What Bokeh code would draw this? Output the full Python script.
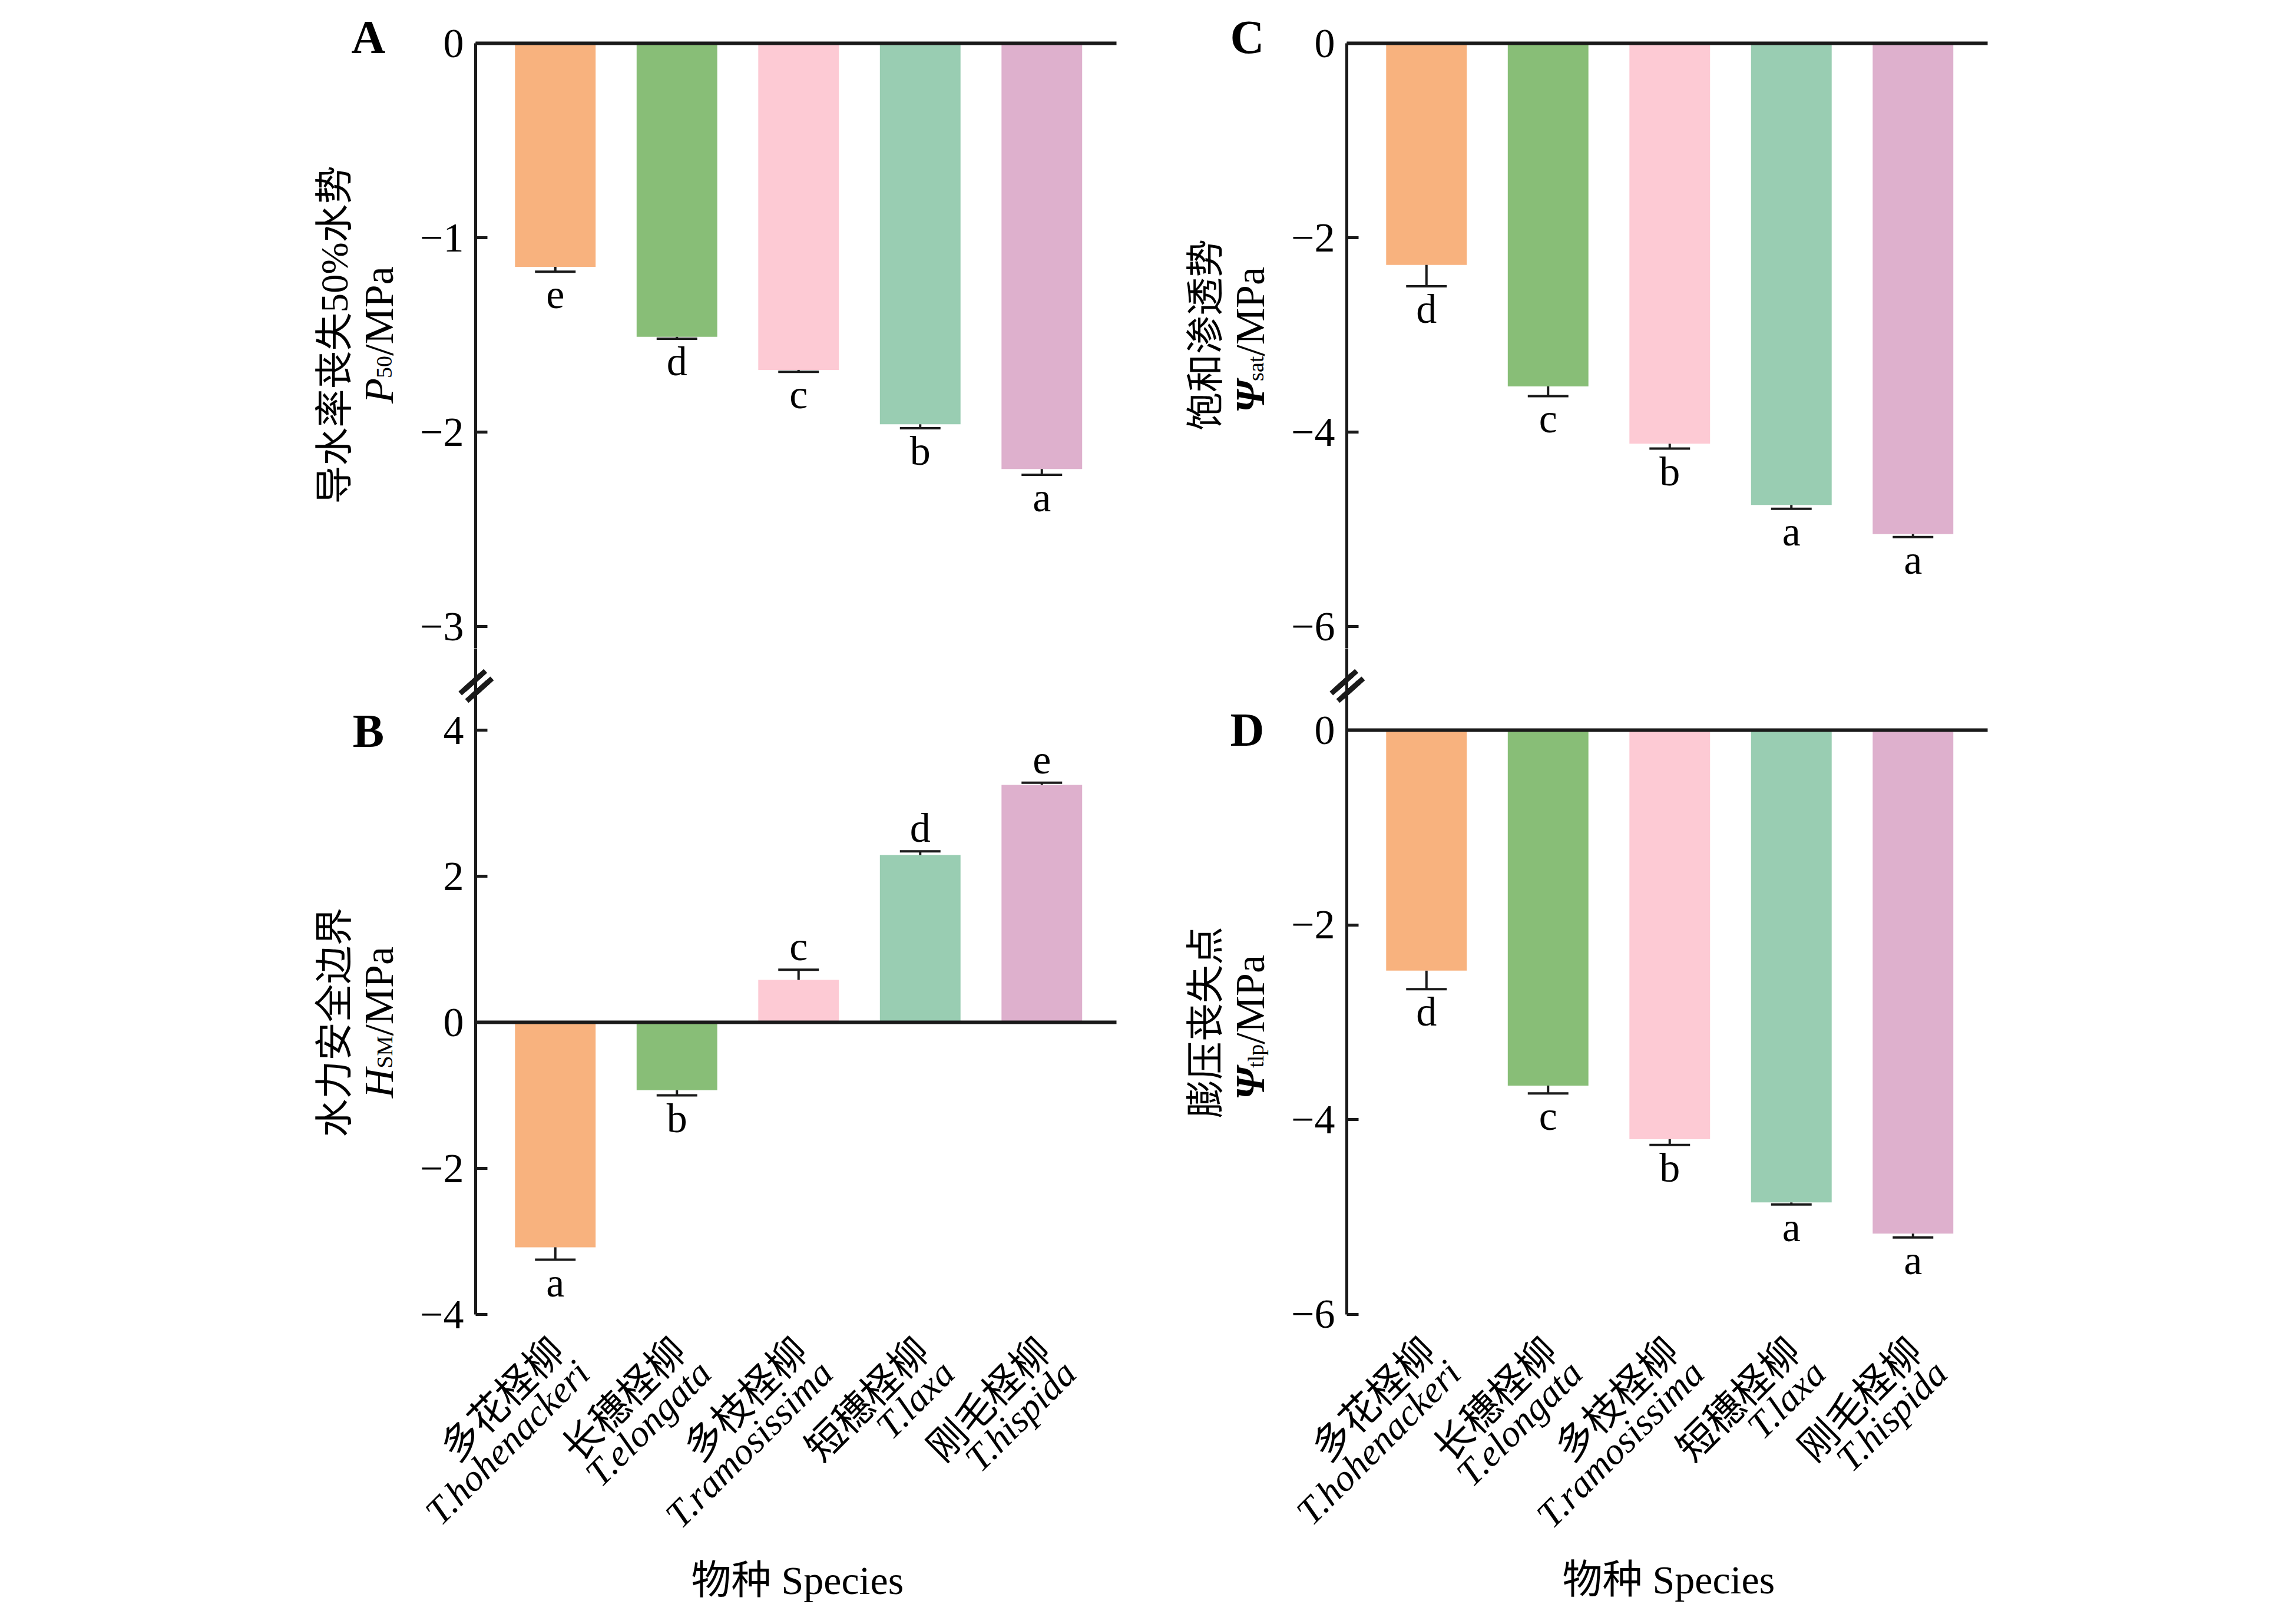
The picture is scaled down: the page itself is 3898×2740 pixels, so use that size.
import math
from bokeh.plotting import figure
from bokeh.models import (Range1d, FixedTicker, Label, LabelSet, LinearAxis,
                          ColumnDataSource, CustomJSTickFormatter)
from bokeh.layouts import column, row
from bokeh.core.properties import value
from bokeh.embed import file_html
from bokeh.resources import INLINE

# ---------------- data ----------------
species_cn = ["多花柽柳", "长穗柽柳", "多枝柽柳", "短穗柽柳", "刚毛柽柳"]
species_la = ["T.hohenackeri", "T.elongata", "T.ramosissima", "T.laxa", "T.hispida"]
bar_colors = ["#F8B27E", "#88BE77", "#FDCAD4", "#99CDB2", "#DEB0CD"]

p50_vals = [-1.15, -1.51, -1.68, -1.96, -2.19]
p50_se = [0.025, 0.01, 0.01, 0.02, 0.03]
p50_sig = ["e", "d", "c", "b", "a"]

hsm_vals = [-3.08, -0.93, 0.58, 2.29, 3.25]
hsm_se = [0.17, 0.07, 0.14, 0.05, 0.03]
hsm_sig = ["a", "b", "c", "d", "e"]

psat_vals = [-2.28, -3.53, -4.12, -4.75, -5.05]
psat_se = [0.22, 0.10, 0.05, 0.04, 0.03]
psat_sig = ["d", "c", "b", "a", "a"]

ptlp_vals = [-2.47, -3.65, -4.20, -4.85, -5.17]
ptlp_se = [0.19, 0.08, 0.06, 0.02, 0.04]
ptlp_sig = ["d", "c", "b", "a", "a"]

ticks_A = [0, -1, -2, -3]
ticks_B = [4, 2, 0, -2, -4]
ticks_C = [0, -2, -4, -6]
ticks_D = [0, -2, -4, -6]

title_cn_A = "导水率丧失50%水势"
title_cn_B = "水力安全边界"
title_cn_C = "饱和渗透势"
title_cn_D = "膨压丧失点"
x_title = "物种 Species"

# ---------------- style / layout constants ----------------
SERIF = "Liberation Serif"
MIXED = "Liberation Serif, Noto Sans CJK SC"
INK = "#1a1a1a"
XR = (-0.655, 4.615)        # extent of the drawn x axis (data units)
BAR_W = 0.663
CAP_HALF = 0.167
UX = 206.5                   # px per category
ROW_SPLIT = 1100             # page y where the top row ends

CW = {"P": 0.556, "M": 0.889, "a": 0.444, "/": 0.278, " ": 0.25, "5": 0.5,
      "0": 0.5, "S": 0.556, "s": 0.389, "t": 0.278, "l": 0.278, "p": 0.5}
CW_IT = {"P": 0.611, "H": 0.722}


def text_w(t, size, style):
    tot = 0.0
    for ch in t:
        if ch == "Ψ":
            tot += 0.78
        elif "italic" in style and ch in CW_IT:
            tot += CW_IT[ch]
        else:
            tot += CW.get(ch, 0.5)
    return tot * size


def make_panel(vals, se, sig, ticks, fig_x, fig_y, width, height, axis_px, ref_val,
               ref_py, upx, letter, letter_y, letter_dx, letter_dy,
               title_cn, title_parts, title_y, top_row=True):
    # ranges derived from the page geometry so the frame fills the whole canvas
    xs = XR[0] - (axis_px - fig_x) / UX
    xe = xs + width / UX
    ye = ref_val + (ref_py - fig_y) / upx
    ys = ye - height / upx
    # y axis line runs from the row split down (top row) or from the split down to the last tick
    ybounds = (ys, 0) if top_row else (min(ticks), ye)
    p = figure(width=width, height=height, x_range=Range1d(xs, xe), y_range=Range1d(ys, ye),
               output_backend="svg", toolbar_location=None, x_axis_location=None,
               y_axis_location=None, min_border_left=0, min_border_right=0,
               min_border_top=0, min_border_bottom=0, title=None)
    p.grid.visible = False
    p.outline_line_color = None
    p.background_fill_color = "white"
    p.border_fill_color = "white"

    ax = LinearAxis(fixed_location=XR[0], bounds=ybounds, ticker=FixedTicker(ticks=ticks))
    ax.formatter = CustomJSTickFormatter(
        code="return tick < 0 ? '\u2212' + Math.abs(tick) : tick.toString();")
    ax.axis_line_width = 5
    ax.axis_line_color = INK
    ax.major_tick_line_width = 5
    ax.major_tick_line_color = INK
    ax.major_tick_in = 20
    ax.major_tick_out = 0
    ax.minor_tick_line_color = None
    ax.major_label_standoff = 20
    ax.major_label_text_font = SERIF
    ax.major_label_text_font_size = "70px"
    ax.major_label_text_color = "black"
    p.add_layout(ax, "left")

    idx = list(range(len(vals)))
    ends = [v + (se_ if v >= 0 else -se_) for v, se_ in zip(vals, se)]
    src = ColumnDataSource(dict(
        x=idx, top=vals, color=bar_colors, end=ends, sig=sig,
        cl=[i - CAP_HALF for i in idx], cr=[i + CAP_HALF for i in idx],
        off=[16 if v >= 0 else -62 for v in vals]))
    p.vbar(x="x", top="top", bottom=0, width=BAR_W, fill_color="color",
           line_color=None, source=src)
    p.segment(x0="x", x1="x", y0="top", y1="end", line_width=4, line_color=INK, source=src)
    p.segment(x0="cl", x1="cr", y0="end", y1="end", line_width=4, line_color=INK, source=src)
    p.add_layout(LabelSet(x="x", y="end", text="sig", y_offset="off", source=src,
                          text_align="center", text_baseline="alphabetic",
                          text_font=value(SERIF), text_font_size="70px",
                          text_color="black"))

    # zero line as a bounded x axis without ticks
    zx = LinearAxis(fixed_location=0, bounds=XR, ticker=FixedTicker(ticks=[]))
    zx.axis_line_width = 6
    zx.axis_line_color = INK
    zx.major_tick_line_color = None
    zx.minor_tick_line_color = None
    zx.major_label_text_font_size = "0px"
    p.add_layout(zx, "below")

    # panel letter
    p.add_layout(Label(x=XR[0], y=letter_y, x_offset=letter_dx, y_offset=letter_dy,
                       text=letter, text_font=SERIF, text_font_style="bold",
                       text_font_size="80px", text_align="center",
                       text_baseline="middle", text_color="black"))

    # y title: Chinese line
    p.add_layout(Label(x=XR[0], y=title_y, x_offset=-240, y_offset=0, angle=math.pi / 2,
                       text=title_cn, text_font=MIXED, text_font_size="65px",
                       text_align="center", text_baseline="middle", text_color="black"))
    # y title: symbol line composed of pieces
    total = sum(text_w(t, s, st) for t, st, s, sh in title_parts)
    pos = -total / 2
    for t, st, s, sh in title_parts:
        p.add_layout(Label(x=XR[0], y=title_y, x_offset=-164 + sh, y_offset=pos,
                           angle=math.pi / 2, text=t, text_font=SERIF,
                           text_font_style=st, text_font_size="%dpx" % s,
                           text_align="left", text_baseline="alphabetic",
                           text_color="black"))
        pos += text_w(t, s, st)

    if not top_row:
        lsrc = ColumnDataSource(dict(x=idx, y=[ybounds[0]] * len(idx), cn=species_cn,
                                     la=species_la))
        p.add_layout(LabelSet(x="x", y="y", text="cn", source=lsrc, x_offset=4,
                              y_offset=-51, angle=math.pi / 4, text_align="right",
                              text_baseline="middle", text_font=value(MIXED),
                              text_font_size="66px", text_color="black"))
        p.add_layout(LabelSet(x="x", y="y", text="la", source=lsrc, x_offset=47,
                              y_offset=-89, angle=math.pi / 4, text_align="right",
                              text_baseline="middle", text_font=value(SERIF),
                              text_font_style="italic", text_font_size="64px",
                              text_color="black"))
        p.add_layout(Label(x=2, y=ybounds[0], x_offset=-2, y_offset=-451, text=x_title,
                           text_font=MIXED, text_font_size="68px",
                           text_align="center", text_baseline="middle",
                           text_color="black"))
        # axis-break mark drawn as a slanted "=" (two copies make the strokes longer)
        for dx, dy in ((2.7, -58.7), (-4.7, -65.3)):
            p.add_layout(Label(x=XR[0], y=ybounds[1], x_offset=dx, y_offset=dy, angle=0.73,
                               text="=", text_font="DejaVu Sans",
                               text_font_style="bold", text_font_size="76px",
                               text_align="center", text_baseline="middle",
                               text_color=INK))
    return p


H_TOP = ROW_SPLIT
H_BOT = 2732 - ROW_SPLIT
# page geometry (image px): left column axis at 807, right column axis at 2286
pA = make_panel(p50_vals, p50_se, p50_sig, ticks_A, 0, 0, 1927, H_TOP, 807, 0, 73, 330,
                "A", 0, -182, 11, title_cn_A,
                [("P", "italic", 70, 0), ("50", "normal", 38, 9), ("/MPa", "normal", 70, 0)],
                -1.5)
pC = make_panel(psat_vals, psat_se, psat_sig, ticks_C, 1927, 0, 1491, H_TOP, 2286, 0, 73, 165,
                "C", 0, -169, 11, title_cn_C,
                [("Ψ", "bold italic", 70, 0), ("sat", "normal", 38, 9), (" /MPa", "normal", 70, 0)],
                -3)
pB = make_panel(hsm_vals, hsm_se, hsm_sig, ticks_B, 0, ROW_SPLIT, 1927, H_BOT, 807, 4, 1239, 124,
                "B", 4, -182, -1, title_cn_B,
                [("H", "italic", 70, 0), ("SM", "normal", 38, 9), ("/MPa", "normal", 70, 0)],
                0, top_row=False)
pD = make_panel(ptlp_vals, ptlp_se, ptlp_sig, ticks_D, 1927, ROW_SPLIT, 1491, H_BOT, 2286, 0, 1239,
                165.33, "D", 0, -169, 1, title_cn_D,
                [("Ψ", "bold italic", 70, 0), ("tlp", "normal", 38, 9), (" /MPa", "normal", 70, 0)],
                -3, top_row=False)

layout = column(row(pA, pC), row(pB, pD))
open("out.html", "w").write(file_html(layout, INLINE))
